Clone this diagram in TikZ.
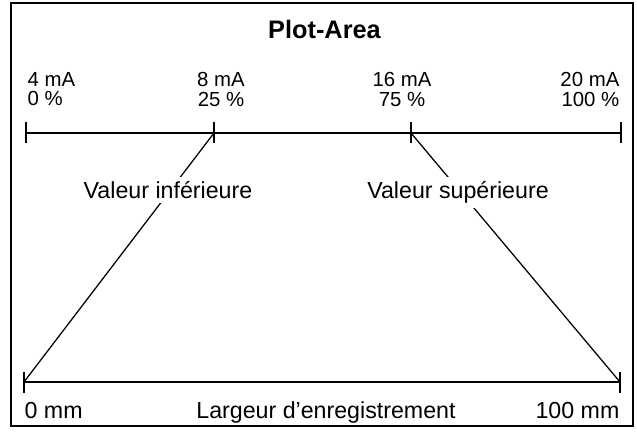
\documentclass[tikz,border=0pt]{standalone}
\usepackage{fontspec}
\setmainfont{Liberation Sans}
\usepackage{tikz}

\tikzset{
    scaletext/.style={font=\fontsize{14.5}{13.7}\selectfont, inner sep=0pt},
    midtext/.style={font=\fontsize{16.5}{18}\selectfont},
    cutlabel/.style={midtext, fill=white, inner sep=3pt},
}

\begin{document}
\begin{tikzpicture}[x=0.025cm, y=-0.025cm, line width=0.9pt]
            \useasboundingbox (0, 0) rectangle (637, 432);
            \draw (11, 3) rectangle (633, 426);

            \node (title) at (324.5, 39) [font=\fontsize{18}{20}\selectfont\bfseries, anchor=base, inner sep=0pt] {Plot-Area};

            \coordinate (t0) at (26, 133);
            \coordinate (t25) at (214, 133);
            \coordinate (t75) at (411, 133);
            \coordinate (t100) at (621, 133);
            \coordinate (b0) at (24, 382);
            \coordinate (b100) at (620, 382);

            \draw (t0) to (t100);
            \draw (b0) to (b100);
            \foreach \c in {t0, t25, t75, t100, b0, b100}
                \draw (\c) ++(0, -10.5) to ++(0, 21);

            \draw (t25) to (b0);
            \draw (t75) to (b100);

            \node (lbl0) at (27, 72) [scaletext, anchor=north west, align=left] {4 mA\\0 \%};
            \node (lbl25) at (221, 72) [scaletext, anchor=north, align=center] {8 mA\\25 \%};
            \node (lbl75) at (402, 72) [scaletext, anchor=north, align=center] {16 mA\\75 \%};
            \node (lbl100) at (620, 72) [scaletext, anchor=north east, align=right] {20 mA\\100 \%};

            \node (lblinf) at (168, 198.5) [cutlabel, anchor=base] {Valeur inférieure};
            \node (lblsup) at (458, 198.5) [cutlabel, anchor=base] {Valeur supérieure};

            \node (mm0) at (24, 418) [midtext, anchor=base west, inner sep=0pt] {0 mm};
            \node (largeur) at (326, 418) [midtext, anchor=base, inner sep=0pt] {Largeur d'enregistrement};
            \node (mm100) at (620, 418) [midtext, anchor=base east, inner sep=0pt] {100 mm};
        \end{tikzpicture}
\end{document}
